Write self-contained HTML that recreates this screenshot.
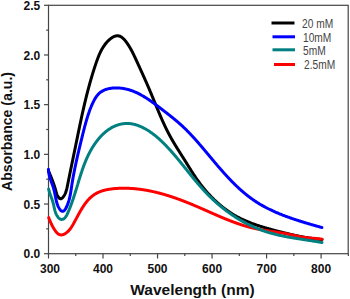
<!DOCTYPE html>
<html><head><meta charset="utf-8"><style>
html,body{margin:0;padding:0;background:#fff;width:350px;height:299px;overflow:hidden}
body{position:relative;font-family:"Liberation Sans",sans-serif}
svg{position:absolute;left:0;top:0}
.yl{position:absolute;left:0;width:40.3px;text-align:right;font-weight:bold;font-size:12px;line-height:14px;color:#111}
.xl{position:absolute;top:262px;width:30px;text-align:center;font-weight:bold;font-size:12px;line-height:14px;color:#111}
.leg{position:absolute;font-size:12px;line-height:14px;color:#444;transform-origin:0 50%;transform:scaleX(0.85)}
.xt{position:absolute;left:130.3px;top:281.5px;font-weight:bold;font-size:15.5px;line-height:16px;color:#111;white-space:nowrap}
.yt{position:absolute;left:-0.6px;top:190.8px;font-weight:bold;font-size:14.1px;line-height:16px;color:#111;white-space:nowrap;transform-origin:0 0;transform:rotate(-90deg)}
</style></head><body>
<svg width="350" height="299" viewBox="0 0 350 299">
<g stroke="#444" stroke-width="1.2" fill="none">
<rect x="48.5" y="5.3" width="299.70" height="248.40"/>
<line x1="44.0" y1="253.70" x2="48.5" y2="253.70"/><line x1="44.0" y1="204.02" x2="48.5" y2="204.02"/><line x1="44.0" y1="154.34" x2="48.5" y2="154.34"/><line x1="44.0" y1="104.66" x2="48.5" y2="104.66"/><line x1="44.0" y1="54.98" x2="48.5" y2="54.98"/><line x1="44.0" y1="5.30" x2="48.5" y2="5.30"/><line x1="46.2" y1="228.86" x2="48.5" y2="228.86"/><line x1="46.2" y1="179.18" x2="48.5" y2="179.18"/><line x1="46.2" y1="129.50" x2="48.5" y2="129.50"/><line x1="46.2" y1="79.82" x2="48.5" y2="79.82"/><line x1="46.2" y1="30.14" x2="48.5" y2="30.14"/><line x1="48.50" y1="253.7" x2="48.50" y2="258.5"/><line x1="103.02" y1="253.7" x2="103.02" y2="258.5"/><line x1="157.54" y1="253.7" x2="157.54" y2="258.5"/><line x1="212.06" y1="253.7" x2="212.06" y2="258.5"/><line x1="266.58" y1="253.7" x2="266.58" y2="258.5"/><line x1="321.10" y1="253.7" x2="321.10" y2="258.5"/><line x1="75.76" y1="253.7" x2="75.76" y2="255.89999999999998"/><line x1="130.28" y1="253.7" x2="130.28" y2="255.89999999999998"/><line x1="184.80" y1="253.7" x2="184.80" y2="255.89999999999998"/><line x1="239.32" y1="253.7" x2="239.32" y2="255.89999999999998"/><line x1="293.84" y1="253.7" x2="293.84" y2="255.89999999999998"/><line x1="348.36" y1="253.7" x2="348.36" y2="255.89999999999998"/>
</g>
<g fill="none" stroke-width="3" stroke-linejoin="round" stroke-linecap="round">
<path stroke="#000" d="M48.51,170.96 L48.78,171.58 L49.04,172.20 L49.30,172.82 L49.56,173.43 L49.82,174.04 L50.07,174.65 L50.32,175.25 L50.57,175.85 L50.82,176.44 L51.06,177.04 L51.30,177.63 L51.54,178.22 L51.77,178.81 L52.01,179.40 L52.24,179.99 L52.47,180.58 L52.69,181.18 L52.91,181.77 L53.13,182.37 L53.35,182.97 L53.56,183.57 L53.77,184.17 L53.98,184.78 L54.19,185.39 L54.39,186.01 L54.59,186.63 L54.79,187.25 L54.98,187.89 L55.17,188.52 L55.36,189.17 L55.54,189.82 L55.73,190.48 L55.91,191.14 L56.09,191.81 L56.28,192.49 L56.48,193.16 L56.69,193.82 L56.93,194.48 L57.20,195.13 L57.49,195.76 L57.83,196.38 L58.20,196.97 L58.61,197.53 L59.05,198.01 L59.51,198.40 L59.98,198.67 L60.46,198.81 L60.94,198.78 L61.42,198.58 L61.88,198.27 L62.33,197.87 L62.75,197.43 L63.15,196.97 L63.52,196.49 L63.87,195.99 L64.20,195.48 L64.51,194.95 L64.80,194.41 L65.07,193.86 L65.32,193.29 L65.56,192.71 L65.78,192.11 L65.99,191.51 L66.19,190.90 L66.38,190.28 L66.55,189.65 L66.72,189.02 L66.87,188.37 L67.02,187.73 L67.17,187.08 L67.31,186.43 L67.44,185.77 L67.58,185.12 L67.71,184.46 L67.84,183.80 L67.97,183.15 L68.10,182.49 L68.23,181.84 L68.36,181.19 L68.50,180.54 L68.63,179.88 L68.76,179.23 L68.89,178.58 L69.02,177.94 L69.15,177.29 L69.29,176.64 L69.42,175.99 L69.55,175.35 L69.68,174.70 L69.81,174.06 L69.94,173.41 L70.08,172.77 L70.21,172.13 L70.34,171.48 L70.47,170.84 L70.60,170.20 L70.73,169.56 L70.87,168.92 L71.00,168.28 L71.13,167.64 L71.26,167.00 L71.39,166.36 L71.52,165.72 L71.66,165.08 L71.79,164.45 L71.92,163.81 L72.05,163.17 L72.18,162.54 L72.31,161.90 L72.45,161.27 L72.58,160.63 L72.71,159.99 L72.84,159.36 L72.97,158.73 L73.10,158.09 L73.23,157.46 L73.36,156.82 L73.50,156.19 L73.63,155.56 L73.76,154.92 L73.89,154.29 L74.02,153.66 L74.15,153.02 L74.28,152.39 L74.41,151.76 L74.54,151.12 L74.67,150.49 L74.80,149.86 L74.93,149.23 L75.06,148.59 L75.19,147.96 L75.32,147.33 L75.45,146.69 L75.58,146.06 L75.71,145.43 L75.84,144.79 L75.97,144.16 L76.10,143.53 L76.23,142.90 L76.36,142.26 L76.49,141.63 L76.61,141.00 L76.74,140.36 L76.87,139.73 L77.00,139.10 L77.13,138.46 L77.26,137.83 L77.39,137.20 L77.52,136.56 L77.65,135.93 L77.78,135.30 L77.91,134.66 L78.04,134.03 L78.17,133.40 L78.30,132.76 L78.43,132.13 L78.56,131.50 L78.69,130.86 L78.82,130.23 L78.95,129.60 L79.08,128.96 L79.22,128.33 L79.35,127.70 L79.48,127.06 L79.61,126.43 L79.74,125.80 L79.88,125.16 L80.01,124.53 L80.14,123.90 L80.28,123.26 L80.41,122.63 L80.55,122.00 L80.68,121.37 L80.81,120.73 L80.95,120.10 L81.09,119.47 L81.22,118.83 L81.36,118.20 L81.49,117.57 L81.63,116.94 L81.77,116.30 L81.91,115.67 L82.05,115.04 L82.18,114.40 L82.32,113.77 L82.46,113.14 L82.60,112.51 L82.75,111.88 L82.89,111.24 L83.03,110.61 L83.17,109.98 L83.31,109.35 L83.46,108.71 L83.60,108.08 L83.75,107.45 L83.89,106.82 L84.04,106.19 L84.18,105.56 L84.33,104.92 L84.48,104.29 L84.63,103.66 L84.77,103.03 L84.92,102.40 L85.07,101.77 L85.23,101.14 L85.38,100.50 L85.53,99.87 L85.68,99.24 L85.84,98.61 L85.99,97.98 L86.15,97.35 L86.30,96.72 L86.46,96.09 L86.62,95.46 L86.77,94.83 L86.93,94.20 L87.09,93.57 L87.25,92.94 L87.41,92.31 L87.58,91.68 L87.74,91.05 L87.90,90.42 L88.07,89.79 L88.23,89.16 L88.40,88.53 L88.57,87.91 L88.74,87.28 L88.91,86.65 L89.08,86.02 L89.25,85.39 L89.42,84.76 L89.59,84.13 L89.77,83.51 L89.94,82.88 L90.12,82.25 L90.30,81.62 L90.48,81.00 L90.65,80.37 L90.84,79.74 L91.02,79.11 L91.20,78.49 L91.38,77.86 L91.57,77.23 L91.75,76.61 L91.94,75.98 L92.13,75.36 L92.32,74.73 L92.51,74.10 L92.70,73.48 L92.89,72.85 L93.08,72.23 L93.28,71.60 L93.48,70.98 L93.67,70.35 L93.87,69.73 L94.07,69.10 L94.27,68.48 L94.47,67.85 L94.68,67.23 L94.88,66.61 L95.09,65.98 L95.30,65.36 L95.50,64.74 L95.71,64.11 L95.93,63.49 L96.14,62.87 L96.35,62.25 L96.57,61.62 L96.79,61.00 L97.01,60.38 L97.23,59.77 L97.46,59.15 L97.69,58.53 L97.92,57.92 L98.16,57.31 L98.40,56.70 L98.64,56.09 L98.89,55.49 L99.15,54.89 L99.40,54.29 L99.67,53.69 L99.94,53.10 L100.21,52.51 L100.49,51.93 L100.78,51.35 L101.07,50.77 L101.37,50.20 L101.68,49.63 L101.99,49.07 L102.31,48.51 L102.64,47.95 L102.97,47.41 L103.32,46.86 L103.67,46.33 L104.03,45.79 L104.40,45.27 L104.78,44.75 L105.16,44.24 L105.56,43.73 L105.97,43.23 L106.38,42.74 L106.81,42.25 L107.24,41.77 L107.69,41.30 L108.15,40.84 L108.62,40.38 L109.10,39.94 L109.59,39.50 L110.09,39.08 L110.60,38.68 L111.11,38.29 L111.63,37.92 L112.16,37.58 L112.70,37.26 L113.24,36.96 L113.78,36.69 L114.33,36.46 L114.88,36.25 L115.43,36.08 L115.98,35.95 L116.54,35.86 L117.09,35.81 L117.64,35.80 L118.19,35.83 L118.74,35.91 L119.29,36.05 L119.83,36.23 L120.37,36.47 L120.90,36.75 L121.42,37.07 L121.95,37.44 L122.46,37.85 L122.97,38.29 L123.47,38.76 L123.97,39.26 L124.45,39.79 L124.93,40.33 L125.40,40.90 L125.86,41.49 L126.32,42.09 L126.76,42.69 L127.19,43.31 L127.61,43.93 L128.02,44.55 L128.42,45.16 L128.81,45.78 L129.19,46.38 L129.56,46.98 L129.91,47.58 L130.26,48.17 L130.60,48.75 L130.92,49.33 L131.24,49.91 L131.55,50.48 L131.86,51.05 L132.16,51.61 L132.45,52.18 L132.73,52.74 L133.01,53.30 L133.29,53.86 L133.56,54.41 L133.83,54.97 L134.09,55.52 L134.36,56.07 L134.62,56.63 L134.87,57.18 L135.13,57.74 L135.39,58.29 L135.65,58.85 L135.90,59.41 L136.16,59.97 L136.42,60.53 L136.68,61.09 L136.94,61.66 L137.20,62.23 L137.46,62.80 L137.73,63.37 L137.99,63.94 L138.25,64.52 L138.52,65.09 L138.78,65.67 L139.05,66.25 L139.31,66.83 L139.58,67.41 L139.84,67.99 L140.11,68.58 L140.38,69.16 L140.64,69.75 L140.91,70.34 L141.18,70.93 L141.45,71.52 L141.71,72.11 L141.98,72.70 L142.25,73.29 L142.52,73.89 L142.79,74.48 L143.05,75.08 L143.32,75.68 L143.59,76.27 L143.86,76.87 L144.13,77.47 L144.39,78.07 L144.66,78.67 L144.93,79.28 L145.20,79.88 L145.46,80.48 L145.73,81.08 L146.00,81.69 L146.26,82.29 L146.53,82.90 L146.79,83.50 L147.06,84.11 L147.32,84.71 L147.58,85.32 L147.85,85.92 L148.11,86.53 L148.37,87.14 L148.63,87.74 L148.89,88.35 L149.15,88.96 L149.41,89.56 L149.67,90.17 L149.92,90.78 L150.18,91.39 L150.43,91.99 L150.69,92.60 L150.94,93.20 L151.20,93.81 L151.45,94.42 L151.70,95.02 L151.95,95.63 L152.20,96.23 L152.45,96.84 L152.70,97.44 L152.95,98.05 L153.20,98.65 L153.45,99.26 L153.69,99.86 L153.94,100.46 L154.19,101.07 L154.44,101.67 L154.68,102.27 L154.93,102.88 L155.18,103.48 L155.42,104.08 L155.67,104.68 L155.92,105.28 L156.16,105.88 L156.41,106.48 L156.66,107.08 L156.91,107.68 L157.15,108.28 L157.40,108.88 L157.65,109.48 L157.90,110.08 L158.15,110.68 L158.40,111.27 L158.65,111.87 L158.90,112.47 L159.15,113.06 L159.40,113.66 L159.66,114.25 L159.91,114.85 L160.16,115.44 L160.42,116.03 L160.67,116.63 L160.93,117.22 L161.19,117.81 L161.45,118.40 L161.71,118.99 L161.97,119.58 L162.23,120.17 L162.49,120.76 L162.76,121.35 L163.02,121.94 L163.29,122.52 L163.56,123.11 L163.83,123.70 L164.10,124.28 L164.37,124.87 L164.65,125.45 L164.92,126.03 L165.20,126.62 L165.48,127.20 L165.76,127.78 L166.04,128.36 L166.33,128.94 L166.61,129.52 L166.90,130.10 L167.19,130.68 L167.48,131.25 L167.77,131.83 L168.07,132.40 L168.37,132.98 L168.67,133.55 L168.97,134.12 L169.27,134.70 L169.58,135.27 L169.89,135.84 L170.20,136.41 L170.51,136.98 L170.83,137.55 L171.14,138.11 L171.46,138.68 L171.79,139.24 L172.11,139.81 L172.44,140.37 L172.76,140.94 L173.09,141.50 L173.42,142.06 L173.76,142.62 L174.09,143.18 L174.43,143.74 L174.76,144.30 L175.10,144.86 L175.44,145.42 L175.78,145.98 L176.12,146.54 L176.47,147.09 L176.81,147.65 L177.15,148.20 L177.50,148.76 L177.85,149.31 L178.19,149.87 L178.54,150.42 L178.89,150.98 L179.24,151.53 L179.58,152.08 L179.93,152.64 L180.28,153.19 L180.63,153.74 L180.98,154.29 L181.33,154.84 L181.68,155.39 L182.03,155.94 L182.38,156.50 L182.73,157.05 L183.07,157.60 L183.42,158.15 L183.77,158.70 L184.12,159.25 L184.46,159.80 L184.81,160.35 L185.15,160.90 L185.49,161.45 L185.84,162.00 L186.18,162.54 L186.52,163.09 L186.86,163.64 L187.20,164.19 L187.54,164.74 L187.88,165.29 L188.22,165.84 L188.56,166.39 L188.90,166.93 L189.24,167.48 L189.58,168.03 L189.92,168.57 L190.27,169.12 L190.61,169.66 L190.95,170.21 L191.29,170.75 L191.64,171.29 L191.98,171.84 L192.33,172.38 L192.68,172.92 L193.03,173.46 L193.38,174.00 L193.73,174.54 L194.08,175.08 L194.44,175.62 L194.79,176.15 L195.15,176.69 L195.51,177.22 L195.87,177.76 L196.24,178.29 L196.61,178.82 L196.97,179.35 L197.35,179.88 L197.72,180.41 L198.10,180.94 L198.48,181.46 L198.86,181.99 L199.24,182.51 L199.63,183.03 L200.02,183.55 L200.41,184.07 L200.80,184.59 L201.20,185.11 L201.60,185.62 L202.00,186.13 L202.41,186.65 L202.81,187.16 L203.22,187.66 L203.63,188.17 L204.05,188.68 L204.47,189.18 L204.89,189.68 L205.31,190.18 L205.73,190.68 L206.16,191.18 L206.59,191.67 L207.02,192.16 L207.45,192.65 L207.89,193.14 L208.33,193.63 L208.77,194.11 L209.22,194.59 L209.66,195.07 L210.11,195.55 L210.56,196.03 L211.01,196.50 L211.47,196.97 L211.93,197.44 L212.39,197.90 L212.85,198.37 L213.32,198.83 L213.79,199.29 L214.26,199.74 L214.73,200.20 L215.20,200.65 L215.68,201.10 L216.16,201.54 L216.64,201.98 L217.12,202.42 L217.61,202.86 L218.10,203.30 L218.59,203.73 L219.08,204.16 L219.58,204.58 L220.08,205.00 L220.58,205.42 L221.08,205.84 L221.58,206.25 L222.09,206.66 L222.60,207.07 L223.11,207.48 L223.62,207.88 L224.14,208.27 L224.66,208.67 L225.18,209.06 L225.70,209.45 L226.22,209.83 L226.75,210.21 L227.28,210.59 L227.81,210.97 L228.34,211.34 L228.88,211.70 L229.41,212.07 L229.95,212.43 L230.49,212.78 L231.04,213.13 L231.58,213.48 L232.13,213.83 L232.68,214.17 L233.23,214.50 L233.79,214.84 L234.35,215.17 L234.90,215.49 L235.46,215.81 L236.03,216.13 L236.59,216.44 L237.16,216.75 L237.73,217.06 L238.30,217.36 L238.87,217.66 L239.44,217.95 L240.02,218.24 L240.60,218.53 L241.18,218.81 L241.76,219.09 L242.34,219.37 L242.93,219.64 L243.51,219.91 L244.10,220.18 L244.69,220.44 L245.28,220.70 L245.88,220.96 L246.47,221.21 L247.07,221.46 L247.66,221.71 L248.26,221.95 L248.86,222.20 L249.46,222.44 L250.07,222.67 L250.67,222.91 L251.28,223.14 L251.88,223.37 L252.49,223.59 L253.10,223.81 L253.71,224.03 L254.32,224.25 L254.93,224.47 L255.55,224.68 L256.16,224.89 L256.78,225.10 L257.39,225.31 L258.01,225.51 L258.63,225.72 L259.25,225.92 L259.86,226.12 L260.48,226.31 L261.11,226.51 L261.73,226.70 L262.35,226.89 L262.97,227.08 L263.60,227.27 L264.22,227.46 L264.85,227.64 L265.47,227.82 L266.10,228.01 L266.72,228.19 L267.35,228.37 L267.98,228.54 L268.61,228.72 L269.23,228.90 L269.86,229.07 L270.49,229.24 L271.12,229.41 L271.75,229.59 L272.38,229.76 L273.01,229.93 L273.64,230.09 L274.27,230.26 L274.90,230.43 L275.53,230.59 L276.15,230.76 L276.78,230.92 L277.41,231.09 L278.04,231.25 L278.67,231.42 L279.30,231.58 L279.93,231.74 L280.56,231.90 L281.19,232.06 L281.82,232.22 L282.45,232.38 L283.08,232.54 L283.71,232.70 L284.34,232.85 L284.97,233.01 L285.60,233.16 L286.23,233.32 L286.86,233.47 L287.49,233.62 L288.12,233.77 L288.75,233.92 L289.38,234.07 L290.01,234.22 L290.64,234.37 L291.27,234.51 L291.90,234.66 L292.53,234.80 L293.16,234.94 L293.80,235.08 L294.43,235.22 L295.06,235.36 L295.69,235.50 L296.33,235.63 L296.96,235.77 L297.59,235.90 L298.23,236.03 L298.86,236.16 L299.49,236.29 L300.13,236.42 L300.76,236.54 L301.40,236.66 L302.04,236.79 L302.67,236.91 L303.31,237.02 L303.95,237.14 L304.58,237.26 L305.22,237.37 L305.86,237.48 L306.50,237.59 L307.14,237.70 L307.78,237.80 L308.42,237.91 L309.06,238.01 L309.70,238.11 L310.34,238.21 L310.99,238.30 L311.63,238.40 L312.27,238.49 L312.92,238.58 L313.56,238.67 L314.21,238.75 L314.85,238.84 L315.50,238.92 L316.15,239.00 L316.79,239.07 L317.44,239.15 L318.09,239.22 L318.74,239.29 L319.39,239.36 L320.04,239.42 L320.70,239.48 L321.35,239.54 L322.00,239.60"/>
<path stroke="#0000ff" d="M48.42,169.28 L48.45,169.87 L48.49,170.45 L48.55,171.02 L48.61,171.59 L48.69,172.16 L48.77,172.72 L48.87,173.27 L48.97,173.82 L49.08,174.36 L49.20,174.90 L49.33,175.44 L49.47,175.97 L49.61,176.50 L49.76,177.03 L49.91,177.55 L50.07,178.07 L50.23,178.59 L50.40,179.10 L50.57,179.62 L50.75,180.13 L50.92,180.64 L51.10,181.16 L51.29,181.67 L51.47,182.18 L51.65,182.69 L51.84,183.20 L52.02,183.71 L52.20,184.23 L52.38,184.74 L52.56,185.26 L52.74,185.78 L52.92,186.30 L53.09,186.82 L53.26,187.35 L53.42,187.88 L53.58,188.41 L53.74,188.95 L53.89,189.49 L54.03,190.03 L54.17,190.58 L54.30,191.14 L54.43,191.69 L54.55,192.25 L54.67,192.82 L54.79,193.38 L54.90,193.95 L55.01,194.52 L55.12,195.09 L55.23,195.66 L55.34,196.23 L55.45,196.80 L55.57,197.37 L55.68,197.94 L55.80,198.51 L55.92,199.07 L56.04,199.64 L56.17,200.20 L56.30,200.76 L56.44,201.31 L56.58,201.87 L56.73,202.42 L56.89,202.96 L57.06,203.50 L57.23,204.03 L57.42,204.56 L57.61,205.08 L57.81,205.60 L58.03,206.11 L58.26,206.61 L58.50,207.10 L58.75,207.59 L59.01,208.06 L59.29,208.53 L59.59,208.99 L59.89,209.43 L60.21,209.85 L60.54,210.23 L60.88,210.58 L61.23,210.87 L61.58,211.10 L61.93,211.26 L62.29,211.34 L62.65,211.34 L63.01,211.26 L63.37,211.11 L63.72,210.90 L64.07,210.62 L64.41,210.30 L64.74,209.92 L65.07,209.51 L65.38,209.06 L65.68,208.58 L65.97,208.08 L66.25,207.55 L66.52,207.01 L66.78,206.45 L67.03,205.88 L67.27,205.30 L67.50,204.72 L67.72,204.14 L67.93,203.56 L68.13,202.98 L68.32,202.41 L68.51,201.83 L68.69,201.26 L68.85,200.70 L69.02,200.13 L69.17,199.57 L69.32,199.01 L69.46,198.45 L69.60,197.90 L69.73,197.34 L69.85,196.79 L69.97,196.24 L70.09,195.69 L70.20,195.14 L70.31,194.59 L70.41,194.04 L70.51,193.50 L70.60,192.96 L70.69,192.41 L70.78,191.87 L70.87,191.33 L70.96,190.79 L71.04,190.25 L71.12,189.71 L71.20,189.17 L71.29,188.63 L71.37,188.09 L71.45,187.55 L71.53,187.02 L71.61,186.48 L71.69,185.94 L71.77,185.40 L71.85,184.86 L71.94,184.32 L72.02,183.78 L72.11,183.24 L72.20,182.70 L72.29,182.15 L72.38,181.61 L72.47,181.07 L72.56,180.53 L72.65,179.99 L72.74,179.44 L72.84,178.90 L72.94,178.36 L73.03,177.82 L73.13,177.27 L73.23,176.73 L73.33,176.18 L73.43,175.64 L73.53,175.10 L73.63,174.55 L73.73,174.01 L73.84,173.46 L73.94,172.92 L74.05,172.37 L74.15,171.83 L74.26,171.28 L74.37,170.74 L74.48,170.19 L74.59,169.64 L74.70,169.10 L74.81,168.55 L74.92,168.01 L75.03,167.46 L75.15,166.91 L75.26,166.37 L75.37,165.82 L75.49,165.27 L75.61,164.73 L75.72,164.18 L75.84,163.63 L75.96,163.09 L76.08,162.54 L76.19,161.99 L76.31,161.45 L76.43,160.90 L76.55,160.35 L76.68,159.80 L76.80,159.26 L76.92,158.71 L77.04,158.16 L77.17,157.62 L77.29,157.07 L77.41,156.52 L77.54,155.98 L77.66,155.43 L77.79,154.88 L77.92,154.34 L78.04,153.79 L78.17,153.24 L78.30,152.70 L78.42,152.15 L78.55,151.61 L78.68,151.06 L78.81,150.51 L78.94,149.97 L79.07,149.42 L79.20,148.88 L79.33,148.33 L79.46,147.79 L79.59,147.24 L79.72,146.70 L79.85,146.15 L79.98,145.61 L80.11,145.06 L80.25,144.52 L80.38,143.97 L80.51,143.43 L80.64,142.89 L80.77,142.34 L80.91,141.80 L81.04,141.26 L81.17,140.71 L81.31,140.17 L81.44,139.63 L81.57,139.09 L81.71,138.54 L81.84,138.00 L81.97,137.46 L82.11,136.92 L82.24,136.38 L82.37,135.84 L82.51,135.30 L82.64,134.76 L82.77,134.22 L82.91,133.68 L83.04,133.14 L83.18,132.60 L83.31,132.07 L83.45,131.53 L83.58,130.99 L83.72,130.45 L83.85,129.92 L83.99,129.38 L84.13,128.84 L84.27,128.31 L84.40,127.77 L84.54,127.24 L84.68,126.70 L84.83,126.17 L84.97,125.64 L85.11,125.10 L85.26,124.57 L85.40,124.04 L85.55,123.51 L85.69,122.97 L85.84,122.44 L85.99,121.91 L86.15,121.38 L86.30,120.85 L86.45,120.32 L86.61,119.79 L86.76,119.26 L86.92,118.73 L87.08,118.21 L87.25,117.68 L87.41,117.15 L87.57,116.62 L87.74,116.10 L87.91,115.57 L88.08,115.05 L88.26,114.52 L88.43,114.00 L88.61,113.47 L88.79,112.95 L88.97,112.43 L89.15,111.91 L89.34,111.38 L89.53,110.86 L89.72,110.34 L89.91,109.82 L90.11,109.30 L90.31,108.78 L90.51,108.27 L90.71,107.75 L90.92,107.23 L91.14,106.72 L91.35,106.20 L91.57,105.69 L91.79,105.17 L92.02,104.66 L92.25,104.15 L92.49,103.64 L92.72,103.13 L92.97,102.62 L93.22,102.11 L93.47,101.60 L93.72,101.10 L93.99,100.59 L94.25,100.09 L94.53,99.59 L94.81,99.10 L95.09,98.61 L95.39,98.12 L95.69,97.65 L96.00,97.18 L96.31,96.71 L96.64,96.26 L96.97,95.81 L97.32,95.37 L97.67,94.94 L98.03,94.53 L98.40,94.12 L98.79,93.73 L99.18,93.35 L99.59,92.99 L100.00,92.64 L100.43,92.30 L100.87,91.98 L101.33,91.67 L101.79,91.38 L102.26,91.10 L102.74,90.83 L103.23,90.58 L103.73,90.34 L104.24,90.12 L104.75,89.90 L105.27,89.70 L105.80,89.51 L106.34,89.33 L106.88,89.17 L107.42,89.01 L107.97,88.87 L108.53,88.74 L109.09,88.62 L109.65,88.51 L110.22,88.41 L110.78,88.32 L111.35,88.24 L111.93,88.17 L112.50,88.11 L113.07,88.05 L113.65,88.01 L114.22,87.98 L114.79,87.95 L115.37,87.93 L115.94,87.92 L116.50,87.92 L117.07,87.93 L117.64,87.94 L118.20,87.96 L118.76,87.99 L119.31,88.02 L119.87,88.07 L120.42,88.12 L120.97,88.17 L121.52,88.24 L122.07,88.31 L122.62,88.38 L123.16,88.47 L123.70,88.56 L124.24,88.65 L124.78,88.76 L125.31,88.87 L125.84,88.98 L126.38,89.10 L126.90,89.23 L127.43,89.36 L127.96,89.50 L128.48,89.65 L129.00,89.80 L129.52,89.96 L130.04,90.12 L130.56,90.29 L131.08,90.46 L131.59,90.64 L132.10,90.83 L132.61,91.01 L133.12,91.21 L133.63,91.41 L134.13,91.61 L134.64,91.82 L135.14,92.04 L135.64,92.25 L136.14,92.48 L136.63,92.70 L137.13,92.94 L137.63,93.17 L138.12,93.41 L138.61,93.66 L139.10,93.90 L139.59,94.16 L140.08,94.41 L140.56,94.67 L141.05,94.94 L141.53,95.20 L142.01,95.48 L142.50,95.75 L142.97,96.03 L143.45,96.31 L143.93,96.59 L144.41,96.88 L144.88,97.17 L145.36,97.46 L145.83,97.76 L146.30,98.06 L146.77,98.36 L147.24,98.67 L147.71,98.97 L148.18,99.28 L148.64,99.59 L149.11,99.91 L149.57,100.22 L150.03,100.54 L150.50,100.86 L150.96,101.18 L151.42,101.51 L151.88,101.83 L152.34,102.16 L152.80,102.49 L153.25,102.82 L153.71,103.15 L154.16,103.49 L154.62,103.82 L155.07,104.16 L155.53,104.49 L155.98,104.83 L156.43,105.17 L156.88,105.51 L157.33,105.85 L157.78,106.19 L158.23,106.53 L158.68,106.87 L159.13,107.22 L159.58,107.56 L160.02,107.90 L160.47,108.25 L160.92,108.59 L161.36,108.93 L161.81,109.28 L162.25,109.62 L162.70,109.96 L163.14,110.30 L163.58,110.65 L164.03,110.99 L164.47,111.33 L164.91,111.67 L165.35,112.01 L165.79,112.35 L166.23,112.70 L166.67,113.04 L167.11,113.38 L167.55,113.72 L167.99,114.06 L168.43,114.40 L168.86,114.75 L169.30,115.09 L169.73,115.43 L170.17,115.77 L170.60,116.12 L171.03,116.46 L171.47,116.81 L171.90,117.15 L172.33,117.50 L172.76,117.85 L173.19,118.19 L173.61,118.54 L174.04,118.89 L174.47,119.24 L174.89,119.59 L175.32,119.94 L175.74,120.29 L176.16,120.65 L176.58,121.00 L177.00,121.36 L177.42,121.71 L177.84,122.07 L178.25,122.43 L178.67,122.79 L179.08,123.15 L179.49,123.52 L179.90,123.88 L180.32,124.25 L180.72,124.61 L181.13,124.98 L181.54,125.35 L181.94,125.73 L182.35,126.10 L182.75,126.47 L183.15,126.85 L183.55,127.23 L183.95,127.61 L184.35,127.99 L184.74,128.37 L185.14,128.76 L185.53,129.14 L185.92,129.53 L186.32,129.92 L186.71,130.31 L187.10,130.70 L187.48,131.09 L187.87,131.49 L188.26,131.88 L188.64,132.28 L189.03,132.67 L189.41,133.07 L189.79,133.47 L190.18,133.87 L190.56,134.27 L190.94,134.68 L191.32,135.08 L191.69,135.49 L192.07,135.89 L192.45,136.30 L192.82,136.71 L193.20,137.12 L193.57,137.53 L193.95,137.94 L194.32,138.35 L194.69,138.76 L195.06,139.17 L195.43,139.59 L195.80,140.00 L196.17,140.42 L196.54,140.84 L196.91,141.25 L197.28,141.67 L197.65,142.09 L198.01,142.51 L198.38,142.93 L198.74,143.35 L199.11,143.77 L199.47,144.20 L199.84,144.62 L200.20,145.04 L200.57,145.47 L200.93,145.89 L201.29,146.32 L201.65,146.74 L202.02,147.17 L202.38,147.59 L202.74,148.02 L203.10,148.45 L203.46,148.88 L203.82,149.30 L204.18,149.73 L204.54,150.16 L204.90,150.59 L205.26,151.02 L205.62,151.45 L205.98,151.88 L206.34,152.31 L206.70,152.74 L207.06,153.17 L207.42,153.60 L207.78,154.03 L208.14,154.46 L208.50,154.89 L208.86,155.32 L209.22,155.75 L209.58,156.18 L209.94,156.61 L210.30,157.04 L210.66,157.47 L211.02,157.90 L211.38,158.33 L211.74,158.76 L212.10,159.19 L212.46,159.62 L212.82,160.05 L213.18,160.48 L213.54,160.91 L213.90,161.34 L214.26,161.77 L214.62,162.20 L214.98,162.63 L215.35,163.05 L215.71,163.48 L216.07,163.91 L216.43,164.34 L216.80,164.76 L217.16,165.19 L217.52,165.62 L217.89,166.04 L218.25,166.47 L218.62,166.89 L218.98,167.32 L219.35,167.74 L219.72,168.16 L220.08,168.59 L220.45,169.01 L220.82,169.43 L221.19,169.85 L221.56,170.27 L221.93,170.69 L222.30,171.11 L222.67,171.53 L223.04,171.95 L223.41,172.37 L223.78,172.78 L224.15,173.20 L224.53,173.61 L224.90,174.03 L225.28,174.44 L225.65,174.85 L226.03,175.27 L226.40,175.68 L226.78,176.09 L227.16,176.50 L227.54,176.91 L227.92,177.31 L228.30,177.72 L228.68,178.13 L229.06,178.53 L229.44,178.93 L229.83,179.34 L230.21,179.74 L230.60,180.14 L230.98,180.54 L231.37,180.94 L231.76,181.33 L232.15,181.73 L232.54,182.13 L232.93,182.52 L233.32,182.91 L233.71,183.30 L234.10,183.70 L234.50,184.08 L234.89,184.47 L235.29,184.86 L235.69,185.24 L236.09,185.63 L236.48,186.01 L236.89,186.39 L237.29,186.77 L237.69,187.15 L238.09,187.53 L238.50,187.91 L238.90,188.28 L239.31,188.65 L239.72,189.02 L240.13,189.39 L240.54,189.76 L240.95,190.13 L241.37,190.50 L241.78,190.86 L242.20,191.22 L242.61,191.58 L243.03,191.94 L243.45,192.30 L243.87,192.66 L244.29,193.01 L244.72,193.36 L245.14,193.71 L245.57,194.06 L245.99,194.41 L246.42,194.76 L246.85,195.10 L247.29,195.44 L247.72,195.78 L248.15,196.12 L248.59,196.46 L249.03,196.79 L249.47,197.12 L249.91,197.45 L250.35,197.78 L250.79,198.11 L251.24,198.44 L251.68,198.76 L252.13,199.08 L252.58,199.40 L253.03,199.71 L253.49,200.03 L253.94,200.34 L254.40,200.65 L254.85,200.96 L255.31,201.27 L255.77,201.57 L256.24,201.87 L256.70,202.17 L257.17,202.47 L257.64,202.77 L258.11,203.06 L258.58,203.35 L259.05,203.64 L259.52,203.93 L260.00,204.21 L260.48,204.49 L260.96,204.78 L261.44,205.05 L261.92,205.33 L262.40,205.60 L262.89,205.88 L263.38,206.15 L263.86,206.42 L264.35,206.68 L264.84,206.95 L265.34,207.21 L265.83,207.47 L266.32,207.73 L266.82,207.99 L267.32,208.24 L267.82,208.49 L268.32,208.75 L268.82,208.99 L269.32,209.24 L269.82,209.49 L270.33,209.73 L270.83,209.97 L271.34,210.21 L271.85,210.45 L272.36,210.69 L272.87,210.93 L273.38,211.16 L273.89,211.39 L274.40,211.62 L274.92,211.85 L275.43,212.08 L275.95,212.30 L276.46,212.53 L276.98,212.75 L277.50,212.97 L278.02,213.19 L278.54,213.41 L279.06,213.62 L279.58,213.84 L280.10,214.05 L280.63,214.26 L281.15,214.47 L281.67,214.68 L282.20,214.89 L282.72,215.10 L283.25,215.30 L283.78,215.50 L284.30,215.71 L284.83,215.91 L285.36,216.11 L285.89,216.30 L286.42,216.50 L286.95,216.70 L287.48,216.89 L288.01,217.08 L288.54,217.27 L289.07,217.46 L289.61,217.65 L290.14,217.84 L290.67,218.03 L291.20,218.21 L291.74,218.40 L292.27,218.58 L292.80,218.77 L293.34,218.95 L293.87,219.13 L294.41,219.31 L294.94,219.48 L295.48,219.66 L296.01,219.84 L296.55,220.01 L297.08,220.19 L297.61,220.36 L298.15,220.53 L298.68,220.70 L299.22,220.87 L299.75,221.04 L300.29,221.21 L300.82,221.38 L301.36,221.55 L301.89,221.71 L302.43,221.88 L302.96,222.04 L303.50,222.20 L304.03,222.37 L304.56,222.53 L305.10,222.69 L305.63,222.85 L306.16,223.01 L306.69,223.17 L307.23,223.33 L307.76,223.49 L308.29,223.64 L308.82,223.80 L309.35,223.96 L309.88,224.11 L310.41,224.27 L310.94,224.42 L311.47,224.57 L312.00,224.73 L312.53,224.88 L313.05,225.03 L313.58,225.18 L314.10,225.34 L314.63,225.49 L315.15,225.64 L315.68,225.79 L316.20,225.94 L316.72,226.08 L317.25,226.23 L317.77,226.38 L318.29,226.53 L318.81,226.68 L319.32,226.82 L319.84,226.97 L320.36,227.12 L320.88,227.26 L321.39,227.41 L321.91,227.56"/>
<path stroke="#ff0000" d="M48.69,217.66 L48.82,218.00 L48.96,218.35 L49.10,218.69 L49.24,219.03 L49.38,219.38 L49.53,219.72 L49.67,220.07 L49.81,220.42 L49.96,220.77 L50.11,221.12 L50.26,221.47 L50.41,221.82 L50.56,222.17 L50.72,222.53 L50.87,222.88 L51.03,223.23 L51.20,223.59 L51.36,223.94 L51.53,224.30 L51.71,224.65 L51.88,225.01 L52.06,225.36 L52.24,225.72 L52.43,226.08 L52.62,226.43 L52.82,226.79 L53.02,227.15 L53.22,227.51 L53.43,227.86 L53.64,228.22 L53.86,228.58 L54.08,228.93 L54.31,229.29 L54.54,229.65 L54.78,230.00 L55.02,230.36 L55.27,230.71 L55.53,231.06 L55.79,231.40 L56.05,231.74 L56.32,232.07 L56.60,232.38 L56.88,232.69 L57.17,232.98 L57.46,233.26 L57.75,233.52 L58.05,233.76 L58.36,233.98 L58.66,234.18 L58.98,234.36 L59.29,234.52 L59.62,234.65 L59.94,234.75 L60.27,234.82 L60.60,234.88 L60.94,234.91 L61.27,234.91 L61.61,234.90 L61.95,234.86 L62.29,234.80 L62.63,234.73 L62.97,234.63 L63.31,234.52 L63.65,234.39 L63.99,234.25 L64.32,234.10 L64.66,233.93 L64.98,233.74 L65.31,233.55 L65.63,233.34 L65.95,233.13 L66.26,232.90 L66.57,232.67 L66.87,232.43 L67.16,232.19 L67.45,231.94 L67.73,231.69 L68.00,231.43 L68.27,231.16 L68.53,230.89 L68.79,230.62 L69.04,230.34 L69.28,230.06 L69.52,229.78 L69.76,229.49 L69.99,229.20 L70.22,228.90 L70.44,228.60 L70.66,228.29 L70.87,227.99 L71.08,227.68 L71.29,227.36 L71.50,227.05 L71.70,226.73 L71.90,226.41 L72.10,226.08 L72.30,225.75 L72.49,225.42 L72.69,225.09 L72.88,224.76 L73.07,224.42 L73.27,224.08 L73.46,223.74 L73.65,223.40 L73.84,223.06 L74.03,222.72 L74.22,222.37 L74.41,222.02 L74.60,221.67 L74.79,221.32 L74.98,220.97 L75.17,220.62 L75.36,220.26 L75.56,219.91 L75.75,219.55 L75.94,219.20 L76.13,218.84 L76.32,218.48 L76.51,218.12 L76.71,217.77 L76.90,217.41 L77.09,217.05 L77.29,216.69 L77.48,216.33 L77.68,215.96 L77.87,215.60 L78.07,215.24 L78.27,214.88 L78.46,214.52 L78.66,214.16 L78.86,213.80 L79.06,213.44 L79.26,213.08 L79.46,212.72 L79.66,212.36 L79.87,212.00 L80.07,211.64 L80.28,211.28 L80.48,210.93 L80.69,210.57 L80.90,210.22 L81.11,209.86 L81.32,209.51 L81.53,209.16 L81.74,208.81 L81.96,208.46 L82.17,208.11 L82.39,207.76 L82.61,207.42 L82.83,207.08 L83.05,206.73 L83.27,206.39 L83.49,206.06 L83.72,205.72 L83.94,205.38 L84.17,205.05 L84.40,204.72 L84.63,204.39 L84.87,204.06 L85.10,203.74 L85.34,203.42 L85.58,203.10 L85.82,202.78 L86.06,202.47 L86.31,202.15 L86.55,201.84 L86.80,201.54 L87.05,201.23 L87.30,200.93 L87.56,200.63 L87.81,200.34 L88.07,200.05 L88.33,199.76 L88.59,199.47 L88.86,199.19 L89.13,198.91 L89.40,198.63 L89.67,198.36 L89.94,198.09 L90.22,197.83 L90.50,197.57 L90.78,197.31 L91.06,197.06 L91.35,196.81 L91.64,196.56 L91.93,196.32 L92.23,196.08 L92.52,195.85 L92.82,195.62 L93.13,195.39 L93.43,195.17 L93.74,194.96 L94.05,194.74 L94.36,194.54 L94.68,194.33 L95.00,194.14 L95.32,193.94 L95.65,193.75 L95.97,193.57 L96.30,193.39 L96.63,193.21 L96.97,193.04 L97.30,192.87 L97.64,192.70 L97.98,192.54 L98.33,192.38 L98.67,192.23 L99.02,192.08 L99.37,191.93 L99.72,191.79 L100.07,191.65 L100.43,191.52 L100.79,191.38 L101.15,191.26 L101.51,191.13 L101.87,191.01 L102.24,190.89 L102.60,190.78 L102.97,190.67 L103.34,190.56 L103.71,190.45 L104.08,190.35 L104.46,190.25 L104.83,190.16 L105.21,190.07 L105.59,189.98 L105.97,189.89 L106.35,189.80 L106.73,189.72 L107.11,189.64 L107.50,189.57 L107.88,189.50 L108.27,189.43 L108.65,189.36 L109.04,189.29 L109.43,189.23 L109.82,189.17 L110.21,189.11 L110.60,189.05 L110.99,189.00 L111.38,188.95 L111.78,188.90 L112.17,188.85 L112.56,188.81 L112.96,188.77 L113.35,188.73 L113.75,188.69 L114.14,188.65 L114.54,188.61 L114.94,188.58 L115.33,188.55 L115.73,188.52 L116.12,188.49 L116.52,188.47 L116.92,188.44 L117.31,188.42 L117.71,188.40 L118.11,188.37 L118.50,188.36 L118.90,188.34 L119.29,188.32 L119.69,188.31 L120.08,188.29 L120.48,188.28 L120.87,188.27 L121.27,188.26 L121.66,188.25 L122.06,188.25 L122.45,188.24 L122.84,188.24 L123.24,188.23 L123.63,188.23 L124.03,188.23 L124.42,188.23 L124.81,188.24 L125.21,188.24 L125.60,188.25 L125.99,188.25 L126.38,188.26 L126.78,188.27 L127.17,188.28 L127.56,188.29 L127.95,188.30 L128.34,188.32 L128.74,188.33 L129.13,188.35 L129.52,188.37 L129.91,188.39 L130.30,188.41 L130.69,188.43 L131.08,188.45 L131.47,188.48 L131.86,188.50 L132.25,188.53 L132.64,188.56 L133.03,188.59 L133.42,188.62 L133.81,188.65 L134.20,188.68 L134.59,188.71 L134.98,188.75 L135.37,188.79 L135.75,188.82 L136.14,188.86 L136.53,188.90 L136.92,188.94 L137.31,188.98 L137.69,189.03 L138.08,189.07 L138.47,189.12 L138.86,189.16 L139.24,189.21 L139.63,189.26 L140.02,189.31 L140.40,189.36 L140.79,189.41 L141.17,189.46 L141.56,189.52 L141.95,189.57 L142.33,189.63 L142.72,189.69 L143.10,189.74 L143.49,189.80 L143.87,189.86 L144.26,189.93 L144.64,189.99 L145.03,190.05 L145.41,190.12 L145.80,190.18 L146.18,190.25 L146.56,190.32 L146.95,190.39 L147.33,190.46 L147.71,190.53 L148.10,190.60 L148.48,190.67 L148.86,190.74 L149.24,190.82 L149.63,190.89 L150.01,190.97 L150.39,191.05 L150.77,191.13 L151.16,191.21 L151.54,191.29 L151.92,191.37 L152.30,191.45 L152.68,191.53 L153.06,191.62 L153.44,191.70 L153.82,191.79 L154.20,191.87 L154.58,191.96 L154.96,192.05 L155.34,192.14 L155.72,192.23 L156.10,192.32 L156.48,192.41 L156.86,192.51 L157.24,192.60 L157.62,192.70 L158.00,192.79 L158.38,192.89 L158.76,192.99 L159.13,193.08 L159.51,193.18 L159.89,193.28 L160.27,193.38 L160.65,193.48 L161.02,193.59 L161.40,193.69 L161.78,193.79 L162.16,193.90 L162.53,194.00 L162.91,194.11 L163.29,194.22 L163.66,194.32 L164.04,194.43 L164.41,194.54 L164.79,194.65 L165.17,194.76 L165.54,194.87 L165.92,194.99 L166.29,195.10 L166.67,195.21 L167.04,195.33 L167.42,195.44 L167.79,195.56 L168.16,195.67 L168.54,195.79 L168.91,195.91 L169.29,196.03 L169.66,196.15 L170.03,196.27 L170.41,196.39 L170.78,196.51 L171.15,196.63 L171.53,196.75 L171.90,196.88 L172.27,197.00 L172.64,197.12 L173.02,197.25 L173.39,197.38 L173.76,197.50 L174.13,197.63 L174.50,197.76 L174.88,197.89 L175.25,198.01 L175.62,198.14 L175.99,198.27 L176.36,198.40 L176.73,198.54 L177.10,198.67 L177.47,198.80 L177.84,198.93 L178.21,199.07 L178.58,199.20 L178.95,199.33 L179.32,199.47 L179.69,199.61 L180.06,199.74 L180.43,199.88 L180.80,200.02 L181.16,200.15 L181.53,200.29 L181.90,200.43 L182.27,200.57 L182.64,200.71 L183.01,200.85 L183.37,200.99 L183.74,201.13 L184.11,201.27 L184.47,201.42 L184.84,201.56 L185.21,201.70 L185.58,201.85 L185.94,201.99 L186.31,202.13 L186.67,202.28 L187.04,202.42 L187.41,202.57 L187.77,202.72 L188.14,202.86 L188.50,203.01 L188.87,203.16 L189.23,203.30 L189.60,203.45 L189.96,203.60 L190.33,203.75 L190.69,203.90 L191.06,204.05 L191.42,204.20 L191.78,204.35 L192.15,204.50 L192.51,204.65 L192.88,204.80 L193.24,204.95 L193.60,205.11 L193.96,205.26 L194.33,205.41 L194.69,205.56 L195.05,205.72 L195.42,205.87 L195.78,206.03 L196.14,206.18 L196.50,206.33 L196.86,206.49 L197.22,206.64 L197.59,206.80 L197.95,206.96 L198.31,207.11 L198.67,207.27 L199.03,207.42 L199.39,207.58 L199.75,207.74 L200.11,207.89 L200.47,208.05 L200.83,208.21 L201.19,208.37 L201.55,208.52 L201.91,208.68 L202.27,208.84 L202.63,209.00 L202.99,209.15 L203.35,209.31 L203.71,209.47 L204.07,209.63 L204.43,209.79 L204.79,209.95 L205.15,210.10 L205.51,210.26 L205.87,210.42 L206.23,210.58 L206.59,210.74 L206.95,210.90 L207.30,211.06 L207.66,211.22 L208.02,211.37 L208.38,211.53 L208.74,211.69 L209.10,211.85 L209.46,212.01 L209.82,212.17 L210.17,212.33 L210.53,212.49 L210.89,212.64 L211.25,212.80 L211.61,212.96 L211.97,213.12 L212.33,213.28 L212.68,213.43 L213.04,213.59 L213.40,213.75 L213.76,213.91 L214.12,214.06 L214.48,214.22 L214.84,214.38 L215.20,214.54 L215.55,214.69 L215.91,214.85 L216.27,215.00 L216.63,215.16 L216.99,215.32 L217.35,215.47 L217.71,215.63 L218.07,215.78 L218.43,215.94 L218.78,216.09 L219.14,216.25 L219.50,216.40 L219.86,216.55 L220.22,216.71 L220.58,216.86 L220.94,217.01 L221.30,217.16 L221.66,217.32 L222.02,217.47 L222.38,217.62 L222.74,217.77 L223.10,217.92 L223.46,218.07 L223.82,218.22 L224.18,218.37 L224.54,218.52 L224.90,218.67 L225.26,218.81 L225.62,218.96 L225.98,219.11 L226.35,219.26 L226.71,219.40 L227.07,219.55 L227.43,219.69 L227.79,219.84 L228.15,219.98 L228.51,220.13 L228.88,220.27 L229.24,220.41 L229.60,220.55 L229.96,220.70 L230.33,220.84 L230.69,220.98 L231.05,221.12 L231.42,221.26 L231.78,221.40 L232.14,221.53 L232.51,221.67 L232.87,221.81 L233.24,221.94 L233.60,222.08 L233.96,222.21 L234.33,222.35 L234.69,222.48 L235.06,222.62 L235.42,222.75 L235.79,222.88 L236.16,223.01 L236.52,223.14 L236.89,223.27 L237.26,223.40 L237.62,223.53 L237.99,223.65 L238.36,223.78 L238.72,223.91 L239.09,224.03 L239.46,224.16 L239.83,224.28 L240.20,224.40 L240.56,224.52 L240.93,224.65 L241.30,224.77 L241.67,224.88 L242.04,225.00 L242.41,225.12 L242.78,225.24 L243.15,225.35 L243.52,225.47 L243.90,225.58 L244.27,225.70 L244.64,225.81 L245.01,225.92 L245.38,226.03 L245.76,226.14 L246.13,226.25 L246.50,226.36 L246.88,226.46 L247.25,226.57 L247.62,226.67 L248.00,226.78 L248.37,226.88 L248.75,226.98 L249.12,227.08 L249.50,227.18 L249.88,227.28 L250.25,227.38 L250.63,227.48 L251.01,227.57 L251.39,227.67 L251.76,227.76 L252.14,227.85 L252.52,227.95 L252.90,228.04 L253.28,228.12 L253.66,228.21 L254.04,228.30 L254.42,228.39 L254.80,228.47 L255.18,228.55 L255.56,228.64 L255.95,228.72 L256.33,228.80 L256.71,228.88 L257.10,228.96 L257.48,229.03 L257.86,229.11 L258.25,229.19 L258.63,229.26 L259.02,229.33 L259.40,229.41 L259.79,229.48 L260.17,229.55 L260.56,229.62 L260.94,229.69 L261.33,229.76 L261.72,229.83 L262.10,229.90 L262.49,229.96 L262.88,230.03 L263.26,230.09 L263.65,230.16 L264.04,230.22 L264.43,230.29 L264.82,230.35 L265.20,230.41 L265.59,230.48 L265.98,230.54 L266.37,230.60 L266.76,230.66 L267.15,230.72 L267.54,230.78 L267.93,230.84 L268.32,230.90 L268.70,230.96 L269.09,231.02 L269.48,231.08 L269.87,231.14 L270.26,231.20 L270.65,231.26 L271.04,231.32 L271.43,231.38 L271.82,231.43 L272.21,231.49 L272.60,231.55 L272.99,231.61 L273.38,231.67 L273.77,231.73 L274.16,231.78 L274.55,231.84 L274.94,231.90 L275.33,231.96 L275.72,232.02 L276.11,232.08 L276.50,232.14 L276.89,232.20 L277.27,232.25 L277.66,232.31 L278.05,232.37 L278.44,232.44 L278.83,232.50 L279.22,232.56 L279.61,232.62 L279.99,232.68 L280.38,232.74 L280.77,232.81 L281.16,232.87 L281.55,232.93 L281.93,233.00 L282.32,233.06 L282.71,233.13 L283.09,233.19 L283.48,233.26 L283.87,233.33 L284.25,233.40 L284.64,233.47 L285.02,233.54 L285.41,233.61 L285.79,233.68 L286.18,233.75 L286.56,233.82 L286.95,233.89 L287.33,233.97 L287.71,234.04 L288.10,234.12 L288.48,234.20 L288.86,234.28 L289.24,234.35 L289.62,234.43 L290.01,234.52 L290.39,234.60 L290.77,234.68 L291.15,234.77 L291.53,234.85 L291.91,234.94 L292.29,235.02 L292.66,235.11 L293.04,235.19 L293.42,235.28 L293.80,235.37 L294.18,235.45 L294.56,235.54 L294.94,235.63 L295.32,235.71 L295.70,235.80 L296.07,235.88 L296.45,235.97 L296.83,236.05 L297.21,236.14 L297.59,236.22 L297.97,236.30 L298.35,236.38 L298.74,236.45 L299.12,236.53 L299.50,236.61 L299.88,236.68 L300.26,236.75 L300.65,236.82 L301.03,236.89 L301.42,236.95 L301.80,237.01 L302.19,237.07 L302.57,237.13 L302.96,237.19 L303.35,237.24 L303.74,237.30 L304.13,237.35 L304.51,237.40 L304.90,237.45 L305.29,237.49 L305.68,237.54 L306.08,237.58 L306.47,237.62 L306.86,237.66 L307.25,237.70 L307.64,237.74 L308.03,237.78 L308.43,237.82 L308.82,237.85 L309.21,237.89 L309.60,237.93 L310.00,237.96 L310.39,237.99 L310.78,238.03 L311.18,238.06 L311.57,238.09 L311.96,238.13 L312.36,238.16 L312.75,238.19 L313.14,238.23 L313.54,238.26 L313.93,238.29 L314.32,238.33 L314.71,238.36 L315.11,238.40 L315.50,238.43 L315.89,238.47 L316.28,238.51 L316.67,238.54 L317.06,238.58 L317.45,238.62 L317.84,238.66 L318.23,238.71 L318.62,238.75 L319.01,238.79 L319.40,238.84 L319.78,238.89 L320.17,238.94 L320.56,238.99 L320.94,239.04 L321.33,239.09 L321.71,239.15 L322.10,239.21"/>
<path stroke="#008080" d="M48.62,188.98 L48.74,189.48 L48.85,189.97 L48.98,190.46 L49.11,190.94 L49.25,191.43 L49.39,191.90 L49.54,192.38 L49.69,192.85 L49.84,193.32 L50.00,193.79 L50.16,194.25 L50.32,194.72 L50.49,195.18 L50.66,195.64 L50.82,196.10 L50.99,196.56 L51.16,197.02 L51.33,197.48 L51.50,197.94 L51.67,198.40 L51.83,198.86 L51.99,199.32 L52.15,199.79 L52.31,200.25 L52.47,200.72 L52.62,201.18 L52.76,201.65 L52.90,202.12 L53.04,202.60 L53.17,203.08 L53.29,203.56 L53.41,204.04 L53.53,204.52 L53.64,205.01 L53.75,205.50 L53.86,205.99 L53.96,206.48 L54.07,206.97 L54.18,207.46 L54.29,207.96 L54.40,208.45 L54.52,208.94 L54.64,209.43 L54.76,209.92 L54.90,210.41 L55.03,210.89 L55.18,211.38 L55.34,211.86 L55.50,212.34 L55.67,212.82 L55.86,213.29 L56.06,213.76 L56.27,214.22 L56.49,214.68 L56.73,215.14 L56.98,215.59 L57.25,216.03 L57.53,216.47 L57.83,216.89 L58.14,217.29 L58.47,217.67 L58.80,218.02 L59.15,218.34 L59.51,218.63 L59.88,218.88 L60.26,219.09 L60.64,219.25 L61.04,219.36 L61.44,219.42 L61.85,219.41 L62.26,219.35 L62.67,219.24 L63.07,219.09 L63.46,218.90 L63.83,218.67 L64.18,218.42 L64.52,218.14 L64.84,217.83 L65.14,217.50 L65.43,217.15 L65.71,216.78 L65.98,216.39 L66.23,215.98 L66.48,215.56 L66.72,215.13 L66.95,214.69 L67.17,214.24 L67.39,213.78 L67.60,213.32 L67.81,212.85 L68.01,212.38 L68.22,211.91 L68.42,211.45 L68.62,210.98 L68.82,210.51 L69.01,210.04 L69.21,209.57 L69.40,209.10 L69.59,208.63 L69.78,208.16 L69.97,207.68 L70.15,207.21 L70.34,206.74 L70.52,206.27 L70.70,205.79 L70.88,205.32 L71.06,204.85 L71.23,204.37 L71.41,203.90 L71.58,203.43 L71.75,202.95 L71.92,202.48 L72.09,202.00 L72.26,201.53 L72.42,201.05 L72.59,200.57 L72.75,200.10 L72.91,199.62 L73.08,199.15 L73.24,198.67 L73.40,198.19 L73.55,197.72 L73.71,197.24 L73.87,196.76 L74.02,196.29 L74.18,195.81 L74.33,195.33 L74.48,194.86 L74.64,194.38 L74.79,193.90 L74.94,193.42 L75.09,192.95 L75.24,192.47 L75.38,191.99 L75.53,191.52 L75.68,191.04 L75.83,190.56 L75.97,190.08 L76.12,189.61 L76.27,189.13 L76.41,188.65 L76.56,188.18 L76.70,187.70 L76.84,187.22 L76.99,186.75 L77.13,186.27 L77.28,185.80 L77.42,185.32 L77.56,184.84 L77.71,184.37 L77.85,183.89 L78.00,183.42 L78.14,182.94 L78.28,182.47 L78.43,181.99 L78.57,181.52 L78.72,181.05 L78.86,180.57 L79.00,180.10 L79.15,179.63 L79.29,179.16 L79.44,178.68 L79.59,178.21 L79.73,177.74 L79.88,177.27 L80.03,176.80 L80.18,176.33 L80.33,175.86 L80.47,175.39 L80.62,174.92 L80.78,174.45 L80.93,173.98 L81.08,173.51 L81.23,173.05 L81.39,172.58 L81.54,172.11 L81.70,171.65 L81.85,171.18 L82.01,170.72 L82.17,170.25 L82.33,169.79 L82.49,169.33 L82.65,168.87 L82.81,168.40 L82.98,167.94 L83.14,167.48 L83.31,167.02 L83.48,166.56 L83.64,166.10 L83.81,165.65 L83.99,165.19 L84.16,164.73 L84.33,164.28 L84.51,163.82 L84.69,163.37 L84.87,162.91 L85.05,162.46 L85.23,162.01 L85.41,161.55 L85.60,161.10 L85.79,160.65 L85.98,160.20 L86.17,159.76 L86.36,159.31 L86.56,158.86 L86.75,158.42 L86.95,157.97 L87.15,157.53 L87.35,157.08 L87.56,156.64 L87.77,156.20 L87.97,155.76 L88.19,155.32 L88.40,154.88 L88.61,154.44 L88.83,154.00 L89.05,153.57 L89.27,153.13 L89.50,152.70 L89.73,152.27 L89.96,151.83 L90.19,151.40 L90.42,150.97 L90.66,150.54 L90.90,150.12 L91.14,149.69 L91.39,149.26 L91.63,148.84 L91.88,148.42 L92.14,147.99 L92.39,147.57 L92.65,147.15 L92.91,146.73 L93.18,146.32 L93.44,145.90 L93.71,145.48 L93.99,145.07 L94.26,144.66 L94.54,144.25 L94.83,143.84 L95.11,143.43 L95.40,143.02 L95.69,142.61 L95.99,142.21 L96.28,141.80 L96.59,141.40 L96.89,141.00 L97.20,140.61 L97.51,140.21 L97.82,139.82 L98.14,139.43 L98.46,139.04 L98.78,138.65 L99.11,138.27 L99.44,137.88 L99.77,137.51 L100.10,137.13 L100.44,136.76 L100.79,136.39 L101.13,136.02 L101.48,135.66 L101.83,135.30 L102.18,134.94 L102.54,134.59 L102.90,134.24 L103.27,133.89 L103.63,133.55 L104.00,133.21 L104.38,132.88 L104.75,132.55 L105.13,132.23 L105.51,131.90 L105.90,131.59 L106.29,131.27 L106.68,130.97 L107.08,130.66 L107.47,130.37 L107.88,130.07 L108.28,129.78 L108.69,129.50 L109.10,129.22 L109.51,128.95 L109.93,128.68 L110.35,128.42 L110.77,128.17 L111.20,127.92 L111.63,127.67 L112.06,127.43 L112.50,127.20 L112.93,126.97 L113.38,126.75 L113.82,126.54 L114.27,126.33 L114.72,126.13 L115.18,125.94 L115.63,125.75 L116.09,125.57 L116.56,125.39 L117.03,125.23 L117.49,125.07 L117.97,124.91 L118.44,124.77 L118.92,124.63 L119.40,124.50 L119.88,124.38 L120.36,124.26 L120.85,124.15 L121.33,124.05 L121.82,123.96 L122.31,123.87 L122.80,123.79 L123.29,123.72 L123.78,123.66 L124.27,123.61 L124.77,123.57 L125.26,123.53 L125.75,123.50 L126.24,123.48 L126.74,123.47 L127.23,123.47 L127.72,123.47 L128.21,123.49 L128.70,123.51 L129.19,123.54 L129.68,123.58 L130.17,123.63 L130.66,123.69 L131.14,123.76 L131.63,123.83 L132.11,123.91 L132.60,124.00 L133.08,124.10 L133.56,124.20 L134.04,124.32 L134.52,124.43 L134.99,124.56 L135.47,124.69 L135.94,124.83 L136.41,124.98 L136.89,125.13 L137.36,125.29 L137.82,125.45 L138.29,125.62 L138.75,125.80 L139.22,125.98 L139.68,126.16 L140.14,126.35 L140.60,126.55 L141.05,126.75 L141.51,126.96 L141.96,127.17 L142.41,127.39 L142.86,127.61 L143.30,127.83 L143.74,128.06 L144.19,128.29 L144.63,128.53 L145.06,128.77 L145.50,129.01 L145.93,129.26 L146.36,129.51 L146.79,129.76 L147.21,130.02 L147.64,130.28 L148.06,130.54 L148.48,130.80 L148.89,131.07 L149.31,131.34 L149.72,131.61 L150.13,131.89 L150.54,132.17 L150.95,132.45 L151.35,132.73 L151.75,133.02 L152.15,133.31 L152.55,133.60 L152.94,133.89 L153.34,134.19 L153.73,134.49 L154.12,134.79 L154.51,135.09 L154.90,135.40 L155.28,135.71 L155.66,136.02 L156.04,136.33 L156.42,136.64 L156.80,136.96 L157.18,137.28 L157.55,137.60 L157.92,137.92 L158.29,138.24 L158.66,138.57 L159.03,138.90 L159.40,139.23 L159.76,139.56 L160.13,139.89 L160.49,140.23 L160.85,140.56 L161.21,140.90 L161.57,141.24 L161.92,141.58 L162.28,141.92 L162.63,142.27 L162.99,142.61 L163.34,142.96 L163.69,143.31 L164.04,143.66 L164.39,144.01 L164.73,144.36 L165.08,144.71 L165.42,145.06 L165.77,145.42 L166.11,145.77 L166.45,146.13 L166.79,146.49 L167.13,146.85 L167.47,147.21 L167.81,147.57 L168.14,147.93 L168.48,148.29 L168.82,148.66 L169.15,149.02 L169.48,149.38 L169.82,149.75 L170.15,150.12 L170.48,150.48 L170.81,150.85 L171.14,151.22 L171.47,151.59 L171.80,151.96 L172.12,152.33 L172.45,152.70 L172.77,153.08 L173.10,153.45 L173.42,153.83 L173.75,154.20 L174.07,154.57 L174.39,154.95 L174.72,155.33 L175.04,155.70 L175.36,156.08 L175.68,156.46 L176.00,156.84 L176.32,157.22 L176.64,157.60 L176.95,157.98 L177.27,158.36 L177.59,158.74 L177.91,159.12 L178.22,159.50 L178.54,159.89 L178.86,160.27 L179.17,160.65 L179.49,161.04 L179.80,161.42 L180.11,161.80 L180.43,162.19 L180.74,162.57 L181.06,162.96 L181.37,163.34 L181.68,163.73 L181.99,164.12 L182.31,164.50 L182.62,164.89 L182.93,165.28 L183.24,165.66 L183.56,166.05 L183.87,166.44 L184.18,166.82 L184.49,167.21 L184.80,167.60 L185.11,167.99 L185.42,168.37 L185.73,168.76 L186.05,169.15 L186.36,169.54 L186.67,169.92 L186.98,170.31 L187.29,170.70 L187.60,171.09 L187.91,171.47 L188.22,171.86 L188.54,172.25 L188.85,172.64 L189.16,173.02 L189.47,173.41 L189.78,173.80 L190.10,174.18 L190.41,174.57 L190.72,174.96 L191.03,175.34 L191.35,175.73 L191.66,176.11 L191.98,176.50 L192.29,176.88 L192.60,177.27 L192.92,177.65 L193.23,178.04 L193.55,178.42 L193.86,178.80 L194.18,179.19 L194.50,179.57 L194.81,179.95 L195.13,180.33 L195.45,180.71 L195.77,181.09 L196.09,181.47 L196.41,181.85 L196.73,182.23 L197.05,182.61 L197.37,182.99 L197.69,183.37 L198.01,183.75 L198.33,184.12 L198.66,184.50 L198.98,184.87 L199.31,185.25 L199.63,185.62 L199.96,186.00 L200.28,186.37 L200.61,186.74 L200.94,187.11 L201.27,187.48 L201.60,187.85 L201.93,188.22 L202.26,188.59 L202.59,188.96 L202.92,189.32 L203.26,189.69 L203.59,190.06 L203.93,190.42 L204.26,190.78 L204.60,191.15 L204.94,191.51 L205.28,191.87 L205.62,192.23 L205.96,192.59 L206.30,192.94 L206.64,193.30 L206.99,193.66 L207.33,194.01 L207.68,194.37 L208.03,194.72 L208.37,195.07 L208.72,195.42 L209.07,195.77 L209.42,196.12 L209.77,196.47 L210.13,196.82 L210.48,197.16 L210.84,197.51 L211.19,197.85 L211.55,198.19 L211.91,198.53 L212.26,198.87 L212.62,199.21 L212.99,199.55 L213.35,199.89 L213.71,200.23 L214.07,200.56 L214.44,200.90 L214.80,201.23 L215.17,201.56 L215.54,201.89 L215.90,202.22 L216.27,202.55 L216.64,202.88 L217.02,203.20 L217.39,203.53 L217.76,203.85 L218.13,204.17 L218.51,204.49 L218.89,204.81 L219.26,205.13 L219.64,205.45 L220.02,205.77 L220.40,206.08 L220.78,206.40 L221.16,206.71 L221.54,207.02 L221.93,207.33 L222.31,207.64 L222.70,207.95 L223.08,208.26 L223.47,208.56 L223.86,208.87 L224.25,209.17 L224.64,209.47 L225.03,209.77 L225.42,210.07 L225.81,210.37 L226.20,210.67 L226.60,210.96 L226.99,211.26 L227.39,211.55 L227.79,211.84 L228.19,212.13 L228.58,212.42 L228.98,212.71 L229.38,213.00 L229.79,213.28 L230.19,213.57 L230.59,213.85 L231.00,214.13 L231.40,214.41 L231.81,214.69 L232.22,214.96 L232.62,215.24 L233.03,215.51 L233.44,215.79 L233.85,216.06 L234.26,216.33 L234.68,216.60 L235.09,216.86 L235.50,217.13 L235.92,217.39 L236.33,217.66 L236.75,217.92 L237.17,218.18 L237.59,218.44 L238.01,218.69 L238.43,218.95 L238.85,219.20 L239.27,219.45 L239.69,219.71 L240.12,219.96 L240.54,220.20 L240.96,220.45 L241.39,220.70 L241.82,220.94 L242.25,221.18 L242.67,221.42 L243.10,221.66 L243.53,221.90 L243.97,222.14 L244.40,222.37 L244.83,222.60 L245.26,222.83 L245.70,223.06 L246.13,223.29 L246.57,223.52 L247.01,223.74 L247.45,223.97 L247.88,224.19 L248.32,224.41 L248.76,224.63 L249.21,224.85 L249.65,225.06 L250.09,225.28 L250.53,225.49 L250.98,225.70 L251.42,225.91 L251.87,226.12 L252.32,226.32 L252.77,226.53 L253.21,226.73 L253.66,226.93 L254.11,227.13 L254.56,227.33 L255.02,227.52 L255.47,227.72 L255.92,227.91 L256.38,228.10 L256.83,228.29 L257.29,228.48 L257.74,228.66 L258.20,228.84 L258.66,229.03 L259.12,229.21 L259.58,229.39 L260.04,229.56 L260.50,229.74 L260.96,229.91 L261.43,230.08 L261.89,230.25 L262.35,230.42 L262.82,230.59 L263.28,230.75 L263.75,230.92 L264.22,231.08 L264.69,231.24 L265.16,231.39 L265.63,231.55 L266.10,231.70 L266.57,231.85 L267.04,232.00 L267.51,232.15 L267.99,232.30 L268.46,232.44 L268.94,232.59 L269.41,232.73 L269.89,232.87 L270.37,233.00 L270.84,233.14 L271.32,233.27 L271.80,233.41 L272.28,233.54 L272.76,233.67 L273.24,233.79 L273.73,233.92 L274.21,234.04 L274.69,234.17 L275.17,234.29 L275.66,234.41 L276.14,234.53 L276.63,234.64 L277.11,234.76 L277.60,234.87 L278.09,234.99 L278.57,235.10 L279.06,235.21 L279.55,235.32 L280.04,235.43 L280.52,235.53 L281.01,235.64 L281.50,235.74 L281.99,235.84 L282.48,235.95 L282.97,236.05 L283.46,236.15 L283.95,236.24 L284.44,236.34 L284.94,236.44 L285.43,236.53 L285.92,236.63 L286.41,236.72 L286.90,236.81 L287.40,236.91 L287.89,237.00 L288.38,237.09 L288.88,237.18 L289.37,237.26 L289.86,237.35 L290.36,237.44 L290.85,237.52 L291.34,237.61 L291.84,237.69 L292.33,237.78 L292.82,237.86 L293.32,237.94 L293.81,238.02 L294.30,238.11 L294.80,238.19 L295.29,238.27 L295.79,238.35 L296.28,238.43 L296.77,238.50 L297.27,238.58 L297.76,238.66 L298.25,238.74 L298.75,238.82 L299.24,238.89 L299.73,238.97 L300.22,239.05 L300.72,239.12 L301.21,239.20 L301.70,239.27 L302.19,239.35 L302.68,239.42 L303.18,239.50 L303.67,239.57 L304.16,239.65 L304.65,239.72 L305.14,239.80 L305.63,239.87 L306.12,239.95 L306.61,240.02 L307.09,240.10 L307.58,240.17 L308.07,240.25 L308.56,240.32 L309.04,240.40 L309.53,240.47 L310.02,240.55 L310.50,240.62 L310.99,240.70 L311.47,240.77 L311.96,240.85 L312.44,240.93 L312.92,241.00 L313.41,241.08 L313.89,241.16 L314.37,241.24 L314.85,241.32 L315.33,241.39 L315.81,241.47 L316.29,241.55 L316.77,241.63 L317.24,241.72 L317.72,241.80 L318.20,241.88 L318.67,241.96 L319.15,242.05 L319.62,242.13 L320.09,242.21 L320.56,242.30 L321.04,242.39 L321.51,242.47 L321.98,242.56"/>
</g>
<g stroke-width="3">
<line x1="271.5" y1="23" x2="294.5" y2="23" stroke="#000"/>
<line x1="272.5" y1="36.8" x2="295" y2="36.8" stroke="#0000ff"/>
<line x1="272.5" y1="49.8" x2="295" y2="49.8" stroke="#008080"/>
<line x1="274" y1="64.5" x2="295" y2="64.5" stroke="#ff0000"/>
</g>
</svg>
<div class="yl" style="top:247.30px">0.0</div><div class="yl" style="top:197.62px">0.5</div><div class="yl" style="top:147.94px">1.0</div><div class="yl" style="top:98.26px">1.5</div><div class="yl" style="top:48.58px">2.0</div><div class="yl" style="top:-1.10px">2.5</div>
<div class="xl" style="left:35.00px">300</div><div class="xl" style="left:88.02px">400</div><div class="xl" style="left:142.54px">500</div><div class="xl" style="left:197.06px">600</div><div class="xl" style="left:251.58px">700</div><div class="xl" style="left:306.10px">800</div>
<div class="leg" style="left:302.0px;top:16.8px">20 mM</div>
<div class="leg" style="left:303.0px;top:30.8px">10mM</div>
<div class="leg" style="left:303.0px;top:44.3px">5mM</div>
<div class="leg" style="left:304.0px;top:58.3px">2.5mM</div>
<div class="xt">Wavelength (nm)</div>
<div class="yt">Absorbance (a.u.)</div>
</body></html>
